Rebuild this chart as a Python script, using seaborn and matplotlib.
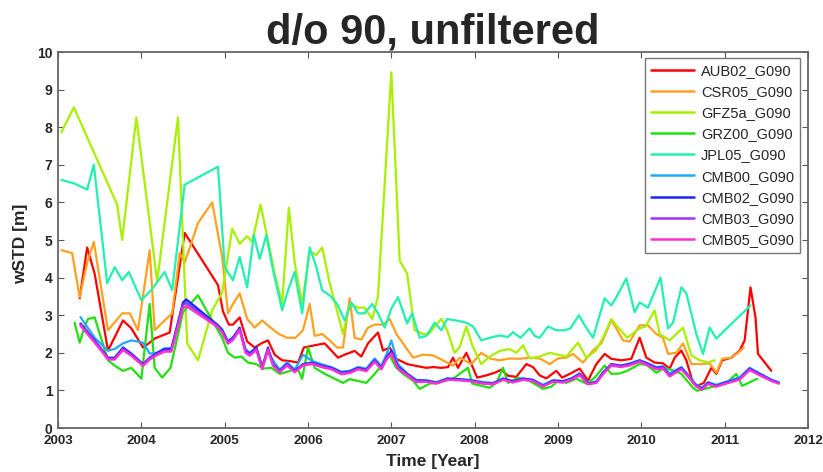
import numpy as np
import pandas as pd
import matplotlib
matplotlib.use("Agg")
import matplotlib.pyplot as plt
import seaborn as sns

# ---------------- data ----------------
names = ["AUB02_G090", "CSR05_G090", "GFZ5a_G090", "GRZ00_G090", "JPL05_G090",
         "CMB00_G090", "CMB02_G090", "CMB03_G090", "CMB05_G090"]
colors = ["#ff0000", "#ffa020", "#a8f000", "#22e010", "#20f0b0",
          "#20a8ff", "#2020ff", "#a030ff", "#ff30d0"]

t_aub = [2003.26, 2003.35, 2003.44, 2003.60, 2003.78, 2003.88, 2004.02, 2004.10, 2004.16, 2004.34,
         2004.52, 2004.92, 2004.98, 2005.05, 2005.10, 2005.18, 2005.27, 2005.36, 2005.44, 2005.52,
         2005.60, 2005.69, 2005.78, 2005.88, 2005.95, 2006.08, 2006.20, 2006.28, 2006.36, 2006.44,
         2006.56, 2006.64, 2006.72, 2006.84, 2006.90, 2006.98, 2007.06, 2007.19, 2007.30, 2007.42,
         2007.50, 2007.60, 2007.68, 2007.74, 2007.80, 2007.90, 2007.96, 2008.03, 2008.14, 2008.24,
         2008.32, 2008.40, 2008.50, 2008.62, 2008.70, 2008.78, 2008.86, 2008.98, 2009.05, 2009.15,
         2009.26, 2009.36, 2009.46, 2009.56, 2009.64, 2009.76, 2009.88, 2009.98, 2010.06, 2010.16,
         2010.26, 2010.34, 2010.40, 2010.48, 2010.54, 2010.62, 2010.67, 2010.75, 2010.84, 2010.90,
         2010.97, 2011.08, 2011.18, 2011.24, 2011.31, 2011.37, 2011.40, 2011.56]
v_aub = [3.45, 4.80, 4.10, 2.06, 2.86, 2.65, 2.14, 2.27, 2.38, 2.54,
         5.19, 3.80, 3.10, 2.75, 2.75, 2.94, 2.30, 2.14, 2.25, 2.33,
         1.95, 1.80, 1.78, 1.74, 2.14, 2.20, 2.25, 2.06, 1.87, 1.95,
         2.05, 1.90, 2.25, 2.54, 2.06, 2.14, 1.84, 1.70, 1.65, 1.60,
         1.62, 1.60, 1.62, 1.87, 1.60, 2.00, 1.70, 1.34, 1.40, 1.47,
         1.55, 1.39, 1.36, 1.70, 1.62, 1.40, 1.32, 1.52, 1.34, 1.45,
         1.58, 1.26, 1.70, 1.97, 1.84, 1.80, 1.84, 2.40, 1.87, 1.74,
         1.72, 1.58, 1.87, 2.06, 1.80, 1.20, 1.12, 1.20, 1.60, 1.44,
         1.80, 1.87, 2.06, 2.33, 3.74, 2.94, 1.97, 1.52]

t_csr = [2003.04, 2003.17, 2003.26, 2003.35, 2003.43, 2003.60, 2003.77, 2003.86, 2003.96, 2004.10,
         2004.16, 2004.28, 2004.37, 2004.46, 2004.52, 2004.68, 2004.85, 2004.97, 2005.04, 2005.10,
         2005.18, 2005.27, 2005.36, 2005.45, 2005.55, 2005.65, 2005.75, 2005.85, 2005.94, 2006.02,
         2006.08, 2006.17, 2006.26, 2006.35, 2006.42, 2006.50, 2006.56, 2006.64, 2006.72, 2006.80,
         2006.90, 2006.98, 2007.06, 2007.14, 2007.26, 2007.38, 2007.50, 2007.62, 2007.74, 2007.82,
         2007.96, 2008.08, 2008.18, 2008.30, 2008.42, 2008.54, 2008.66, 2008.78, 2008.90, 2009.00,
         2009.10, 2009.18, 2009.30, 2009.42, 2009.52, 2009.64, 2009.70, 2009.78, 2009.86, 2009.98,
         2010.08, 2010.18, 2010.26, 2010.32, 2010.42, 2010.50, 2010.60, 2010.70, 2010.82, 2010.90,
         2010.97, 2011.08, 2011.16, 2011.23]
v_csr = [4.73, 4.65, 3.48, 4.40, 4.95, 2.60, 3.05, 3.05, 2.60, 4.73,
         2.60, 2.86, 3.05, 4.65, 4.40, 5.45, 6.00, 4.55, 3.05, 3.30,
         3.58, 2.90, 2.67, 2.86, 2.67, 2.50, 2.40, 2.40, 2.60, 3.30,
         2.45, 2.50, 2.33, 2.14, 2.14, 3.45, 2.40, 2.35, 2.67, 2.75,
         2.75, 2.90, 2.50, 2.25, 1.87, 1.95, 1.93, 1.80, 1.66, 1.87,
         1.70, 2.00, 1.85, 1.80, 1.85, 1.84, 1.87, 1.85, 1.70, 1.85,
         1.87, 1.97, 1.74, 2.06, 2.25, 2.86, 2.65, 2.33, 2.30, 2.73,
         2.73, 2.50, 2.40, 1.97, 2.00, 2.25, 1.70, 1.70, 1.72, 1.47,
         1.84, 1.87, 2.00, 2.14]

t_gfz = [2003.04, 2003.19, 2003.71, 2003.77, 2003.94, 2004.19, 2004.44, 2004.55, 2004.68, 2004.85,
         2004.97, 2005.09, 2005.18, 2005.27, 2005.33, 2005.43, 2005.50, 2005.60, 2005.69, 2005.77,
         2005.84, 2005.93, 2006.02, 2006.10, 2006.17, 2006.26, 2006.35, 2006.42, 2006.50, 2006.60,
         2006.68, 2006.77, 2006.84, 2007.00, 2007.10, 2007.19, 2007.28, 2007.38, 2007.45, 2007.52,
         2007.60, 2007.67, 2007.76, 2007.82, 2007.90, 2007.98, 2008.08, 2008.18, 2008.30, 2008.42,
         2008.50, 2008.58, 2008.66, 2008.78, 2008.90, 2009.00, 2009.10, 2009.24, 2009.34, 2009.45,
         2009.54, 2009.64, 2009.70, 2009.83, 2009.98, 2010.05, 2010.16, 2010.22, 2010.34, 2010.50,
         2010.60, 2010.70, 2010.80, 2010.88]
v_gfz = [7.86, 8.53, 5.94, 5.00, 8.26, 3.90, 8.26, 2.25, 1.80, 3.13,
         3.60, 5.30, 4.90, 5.10, 4.95, 5.94, 5.20, 4.10, 3.30, 5.86,
         4.40, 3.30, 4.70, 4.60, 4.80, 3.85, 3.10, 2.50, 3.30, 3.20,
         3.20, 2.90, 3.50, 9.46, 4.45, 4.10, 2.60, 2.50, 2.50, 2.70,
         2.90, 2.60, 2.00, 2.15, 2.70, 2.15, 1.70, 1.90, 2.05, 2.10,
         2.00, 2.20, 1.85, 1.90, 2.00, 1.95, 1.90, 2.27, 1.87, 2.05,
         2.40, 2.90, 2.73, 2.40, 2.65, 2.70, 3.13, 2.50, 2.33, 2.67,
         1.93, 1.80, 1.75, 1.80]

t_grz = [2003.20, 2003.26, 2003.32, 2003.36, 2003.44, 2003.60, 2003.68, 2003.78, 2003.88, 2004.00,
         2004.10, 2004.16, 2004.25, 2004.35, 2004.50, 2004.68, 2004.85, 2004.97, 2005.04, 2005.12,
         2005.20, 2005.28, 2005.38, 2005.46, 2005.56, 2005.66, 2005.76, 2005.87, 2005.93, 2006.00,
         2006.08, 2006.20, 2006.32, 2006.42, 2006.50, 2006.60, 2006.70, 2006.80, 2006.90, 2006.98,
         2007.06, 2007.14, 2007.26, 2007.34, 2007.46, 2007.56, 2007.74, 2007.92, 2007.97, 2008.18,
         2008.26, 2008.34, 2008.40, 2008.52, 2008.66, 2008.82, 2008.92, 2009.00, 2009.10, 2009.22,
         2009.34, 2009.44, 2009.56, 2009.64, 2009.74, 2009.83, 2009.98, 2010.06, 2010.18, 2010.28,
         2010.40, 2010.48, 2010.62, 2010.67, 2010.78, 2010.90, 2011.02, 2011.14, 2011.21, 2011.39]
v_grz = [2.80, 2.27, 2.70, 2.90, 2.94, 1.80, 1.66, 1.52, 1.60, 1.31,
         3.30, 1.60, 1.34, 1.60, 3.08, 3.53, 2.86, 2.40, 2.00, 1.87,
         1.90, 1.74, 1.70, 1.58, 1.60, 1.44, 1.50, 1.60, 1.31, 2.14,
         1.60, 1.44, 1.31, 1.20, 1.30, 1.25, 1.20, 1.44, 1.70, 1.93,
         1.60, 1.44, 1.26, 1.04, 1.18, 1.20, 1.31, 1.60, 1.18, 1.07,
         1.20, 1.60, 1.20, 1.34, 1.25, 1.04, 1.10, 1.26, 1.20, 1.31,
         1.18, 1.34, 1.66, 1.44, 1.45, 1.52, 1.70, 1.68, 1.47, 1.60,
         1.52, 1.44, 1.07, 0.99, 1.05, 1.12, 1.20, 1.44, 1.12, 1.31]

t_jpl = [2003.04, 2003.20, 2003.35, 2003.43, 2003.59, 2003.68, 2003.77, 2003.85, 2004.00, 2004.12,
         2004.28, 2004.37, 2004.52, 2004.92, 2005.00, 2005.10, 2005.18, 2005.27, 2005.35, 2005.42,
         2005.50, 2005.58, 2005.69, 2005.76, 2005.84, 2005.93, 2006.02, 2006.10, 2006.17, 2006.26,
         2006.35, 2006.44, 2006.52, 2006.60, 2006.68, 2006.77, 2006.84, 2006.92, 2007.00, 2007.08,
         2007.19, 2007.25, 2007.34, 2007.42, 2007.52, 2007.60, 2007.67, 2007.80, 2007.90, 2007.98,
         2008.08, 2008.18, 2008.30, 2008.40, 2008.46, 2008.55, 2008.66, 2008.72, 2008.78, 2008.88,
         2008.98, 2009.08, 2009.15, 2009.25, 2009.33, 2009.42, 2009.56, 2009.64, 2009.70, 2009.82,
         2009.92, 2009.98, 2010.08, 2010.23, 2010.32, 2010.38, 2010.48, 2010.54, 2010.66, 2010.74,
         2010.82, 2010.90, 2011.31]
v_jpl = [6.60, 6.50, 6.34, 7.00, 3.85, 4.28, 3.93, 4.15, 3.40, 3.67,
         4.15, 3.67, 6.47, 6.95, 4.28, 3.93, 4.55, 3.74, 5.13, 4.50,
         5.13, 4.20, 3.13, 3.66, 4.15, 3.05, 4.80, 4.28, 3.66, 3.53,
         3.30, 2.86, 3.34, 3.05, 3.05, 3.30, 3.05, 2.67, 3.18, 3.48,
         2.78, 3.05, 2.40, 2.45, 2.80, 2.60, 2.90, 2.85, 2.80, 2.70,
         2.33, 2.40, 2.46, 2.42, 2.55, 2.40, 2.65, 2.45, 2.40, 2.70,
         2.60, 2.60, 2.65, 3.00, 2.70, 2.40, 3.45, 3.26, 3.48, 3.98,
         3.08, 3.34, 3.20, 4.00, 2.65, 2.80, 3.74, 3.58, 2.50, 1.97,
         2.67, 2.38, 3.26]

t_cmb = [2003.27, 2003.44, 2003.60, 2003.68, 2003.78, 2003.88, 2004.02, 2004.10, 2004.19, 2004.28,
         2004.36, 2004.50, 2004.54, 2004.92, 2004.97, 2005.04, 2005.10, 2005.18, 2005.25, 2005.30,
         2005.38, 2005.45, 2005.52, 2005.58, 2005.66, 2005.75, 2005.84, 2005.94, 2006.05, 2006.16,
         2006.28, 2006.40, 2006.50, 2006.60, 2006.70, 2006.80, 2006.88, 2006.94, 2007.00, 2007.08,
         2007.19, 2007.30, 2007.42, 2007.54, 2007.67, 2007.80, 2007.96, 2008.10, 2008.22, 2008.34,
         2008.46, 2008.58, 2008.70, 2008.82, 2008.94, 2009.06, 2009.16, 2009.26, 2009.36, 2009.46,
         2009.54, 2009.64, 2009.75, 2009.86, 2009.98, 2010.08, 2010.18, 2010.26, 2010.34, 2010.42,
         2010.48, 2010.56, 2010.66, 2010.73, 2010.80, 2010.90, 2011.00, 2011.18, 2011.30, 2011.42,
         2011.57, 2011.65]
v_cmb00 = [2.95, 2.40, 2.06, 2.10, 2.25, 2.33, 2.27, 1.98, 2.00, 2.12,
           2.12, 3.30, 3.35, 2.73, 2.62, 2.30, 2.42, 2.62, 2.10, 2.00,
           2.14, 1.66, 2.05, 1.80, 1.55, 1.75, 1.55, 1.95, 1.78, 1.70,
           1.62, 1.50, 1.52, 1.62, 1.58, 1.85, 1.65, 1.95, 2.33, 1.70,
           1.45, 1.28, 1.27, 1.22, 1.32, 1.30, 1.28, 1.22, 1.20, 1.32,
           1.25, 1.32, 1.28, 1.15, 1.27, 1.25, 1.32, 1.45, 1.20, 1.24,
           1.48, 1.68, 1.65, 1.72, 1.80, 1.72, 1.62, 1.64, 1.45, 1.55,
           1.62, 1.42, 1.15, 1.08, 1.22, 1.15, 1.22, 1.35, 1.60, 1.45,
           1.28, 1.22]
v_cmb02 = [2.78, 2.33, 1.87, 1.87, 2.14, 1.98, 1.70, 1.87, 2.00, 2.10,
           2.10, 3.34, 3.42, 2.73, 2.60, 2.30, 2.40, 2.67, 2.06, 1.98,
           2.14, 1.60, 2.14, 1.70, 1.52, 1.70, 1.52, 1.70, 1.74, 1.66,
           1.60, 1.47, 1.50, 1.60, 1.55, 1.80, 1.60, 1.87, 2.05, 1.63,
           1.44, 1.26, 1.26, 1.20, 1.31, 1.30, 1.26, 1.20, 1.18, 1.31,
           1.24, 1.31, 1.28, 1.12, 1.26, 1.24, 1.31, 1.44, 1.18, 1.22,
           1.47, 1.70, 1.66, 1.70, 1.80, 1.70, 1.60, 1.62, 1.39, 1.52,
           1.60, 1.39, 1.12, 1.04, 1.20, 1.12, 1.20, 1.31, 1.58, 1.44,
           1.26, 1.20]
v_cmb03 = [2.75, 2.30, 1.85, 1.84, 2.10, 1.95, 1.68, 1.85, 1.97, 2.06,
           2.06, 3.28, 3.32, 2.70, 2.56, 2.27, 2.37, 2.63, 2.03, 1.95,
           2.10, 1.58, 2.10, 1.68, 1.50, 1.68, 1.50, 1.68, 1.72, 1.64,
           1.58, 1.45, 1.48, 1.58, 1.53, 1.78, 1.58, 1.84, 2.00, 1.60,
           1.42, 1.24, 1.24, 1.19, 1.29, 1.28, 1.25, 1.19, 1.17, 1.29,
           1.22, 1.29, 1.26, 1.11, 1.24, 1.22, 1.29, 1.42, 1.17, 1.21,
           1.45, 1.68, 1.64, 1.68, 1.78, 1.68, 1.58, 1.60, 1.38, 1.50,
           1.58, 1.38, 1.11, 1.03, 1.18, 1.11, 1.18, 1.30, 1.56, 1.42,
           1.25, 1.19]
v_cmb05 = [2.72, 2.27, 1.82, 1.82, 2.07, 1.92, 1.65, 1.82, 1.94, 2.03,
           2.03, 3.20, 3.24, 2.68, 2.53, 2.24, 2.34, 2.60, 2.00, 1.92,
           2.07, 1.56, 2.07, 1.66, 1.48, 1.66, 1.48, 1.66, 1.70, 1.62,
           1.56, 1.43, 1.46, 1.56, 1.51, 1.76, 1.56, 1.82, 1.97, 1.58,
           1.40, 1.22, 1.23, 1.18, 1.28, 1.27, 1.24, 1.18, 1.16, 1.28,
           1.21, 1.28, 1.25, 1.10, 1.23, 1.21, 1.28, 1.40, 1.16, 1.20,
           1.43, 1.66, 1.62, 1.66, 1.76, 1.66, 1.56, 1.58, 1.37, 1.48,
           1.56, 1.37, 1.10, 1.02, 1.17, 1.10, 1.17, 1.29, 1.54, 1.40,
           1.24, 1.18]

title_text = "d/o 90, unfiltered"
x_label = "Time [Year]"
y_label = "wSTD [m]"
x_ticks = list(range(2003, 2013))
y_ticks = list(range(0, 11))

# ---------------- build long table ----------------
series = {
    names[0]: (t_aub, v_aub),
    names[1]: (t_csr, v_csr),
    names[2]: (t_gfz, v_gfz),
    names[3]: (t_grz, v_grz),
    names[4]: (t_jpl, v_jpl),
    names[5]: (t_cmb, v_cmb00),
    names[6]: (t_cmb, v_cmb02),
    names[7]: (t_cmb, v_cmb03),
    names[8]: (t_cmb, v_cmb05),
}
frames = []
for nm, (tt, vv) in series.items():
    frames.append(pd.DataFrame({"t": tt, "v": vv, "series": nm}))
df = pd.concat(frames, ignore_index=True)

# ---------------- plot ----------------
sns.set_theme(style="white")
plt.rcParams["font.family"] = ["Liberation Sans", "DejaVu Sans"]

W, H = 823, 472
fig = plt.figure(figsize=(W / 100, H / 100), dpi=100)
L, R, T, B = 58, 808, 52, 428
ax = fig.add_axes([L / W, 1 - B / H, (R - L) / W, (B - T) / H])

sns.lineplot(data=df, x="t", y="v", hue="series", hue_order=names,
             palette=dict(zip(names, colors)), estimator=None, sort=False,
             linewidth=1.6, ax=ax, legend=True)

ax.set_xlim(2003, 2012)
ax.set_ylim(0, 10)
ax.set_xticks(x_ticks)
ax.set_yticks(y_ticks)
ax.set_xticklabels([str(v) for v in x_ticks], fontsize=9.6, fontweight="bold")
ax.set_yticklabels([str(v) for v in y_ticks], fontsize=10, fontweight="bold")
ax.tick_params(axis="both", which="major", direction="in", length=4, width=0.8,
               color="#555555", top=True, right=True, bottom=True, left=True)
ax.tick_params(axis="x", pad=5)
ax.tick_params(axis="y", pad=4)
for sp in ax.spines.values():
    sp.set_color("#666666")
    sp.set_linewidth(1.3)

ax.set_xlabel(x_label, fontsize=12.5, fontweight="bold")
ax.set_ylabel(y_label, fontsize=12.5, fontweight="bold")
ax.xaxis.set_label_coords(0.5, -0.07)
ax.yaxis.set_label_coords(-0.04, 0.49)

fig.text(433 / W, 1 - 43 / H, title_text, ha="center", va="baseline",
         fontsize=30, fontweight="bold")

handles, labels = ax.get_legend_handles_labels()
leg = ax.legend(handles, labels, loc="upper right",
                bbox_to_anchor=(1 - 8 / (R - L), 1 - 6 / (B - T)),
                borderaxespad=0, frameon=True, fancybox=False,
                fontsize=10.5, handlelength=3.0, handletextpad=0.45,
                labelspacing=0.49, borderpad=0.4)
leg.get_frame().set_edgecolor("#555555")
leg.get_frame().set_linewidth(1.0)
for lh in leg.get_lines():
    lh.set_linewidth(1.8)

fig.savefig("out.png", dpi=100, facecolor="white")
